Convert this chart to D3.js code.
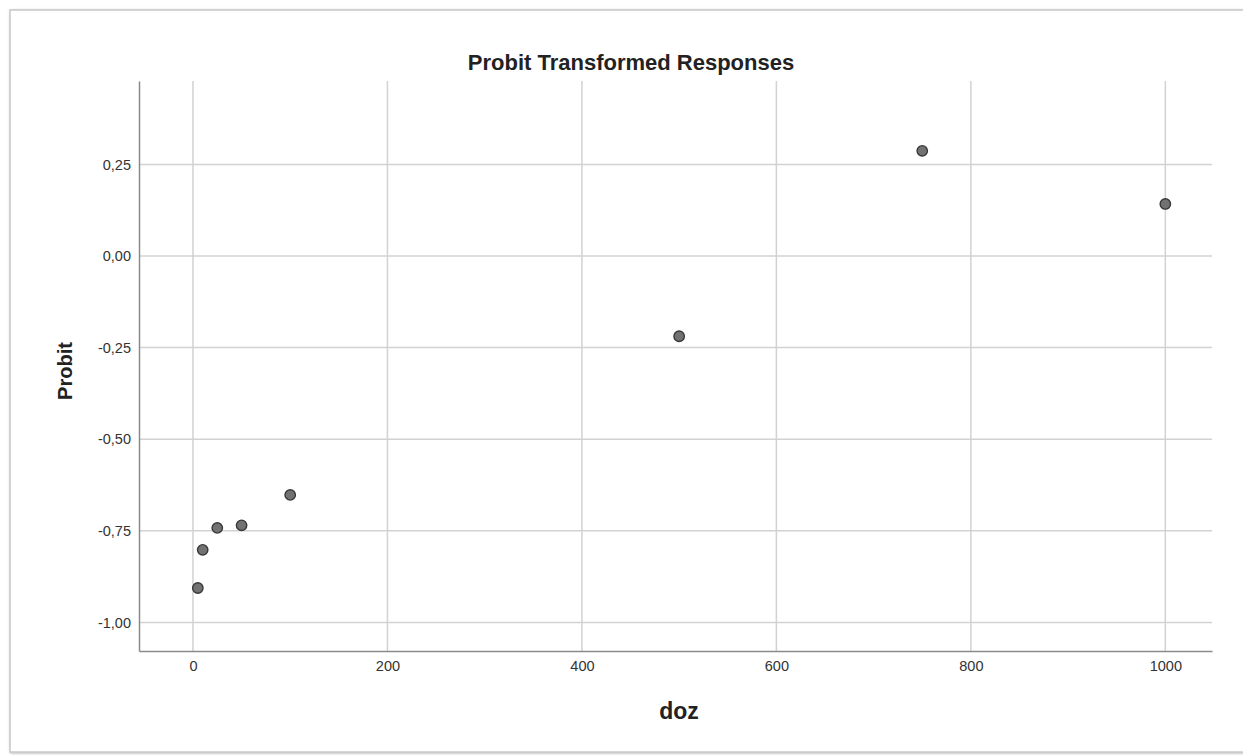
<!DOCTYPE html>
<html>
<head>
<meta charset="utf-8">
<script src="https://cdn.jsdelivr.net/npm/d3@7"></script>
<style>
  body { margin: 0; background: #fff; }
  text { font-family: "Liberation Sans", Arial, sans-serif; }
</style>
</head>
<body>
<div id="canvas"></div>
<script>
// ---- DATA ----
var doses = [5, 10, 25, 50, 100, 500, 750, 1000];
var probits = [-0.906, -0.802, -0.742, -0.735, -0.652, -0.219, 0.287, 0.142];
var xTicks = [0, 200, 400, 600, 800, 1000];
var yTicks = [0.25, 0, -0.25, -0.5, -0.75, -1];

// ---- CONVENTIONS ----
var outerWidth = 1243, outerHeight = 755;
var margin = {top: 81, right: 31, bottom: 104, left: 139};
var width = outerWidth - margin.left - margin.right,
    height = outerHeight - margin.top - margin.bottom;

var svg = d3.select('#canvas')
    .append('svg')
    .attr('width', outerWidth)
    .attr('height', outerHeight);

// frame with soft shadow
var defs = svg.append('defs');
var f = defs.append('filter').attr('id', 'shadow').attr('x', '-5%').attr('y', '-5%').attr('width', '110%').attr('height', '110%');
f.append('feDropShadow').attr('dx', 1).attr('dy', 1).attr('stdDeviation', 1.5).attr('flood-color', '#999').attr('flood-opacity', 0.6);

svg.append('rect')
    .attr('x', 10).attr('y', 10)
    .attr('width', outerWidth + 20).attr('height', 742)
    .attr('fill', '#fff')
    .attr('stroke', '#c8c8c8')
    .attr('stroke-width', 1.5)
    .attr('filter', 'url(#shadow)');

var plot = svg.append('g')
    .attr('transform', 'translate(' + margin.left + ',' + margin.top + ')');

// ---- SCALES ----
var scaleX = d3.scaleLinear().domain([-55.5, 1048]).range([0, width]);
var scaleY = d3.scaleLinear().domain([-1.078, 0.4776]).range([height, 0]);

var fmt = function(d){ return d3.format('.2f')(d).replace('.', ',').replace('−', '-'); };

// ---- GRID ----
plot.append('g').selectAll('line')
    .data(xTicks).enter().append('line')
    .attr('x1', function(d){ return scaleX(d); })
    .attr('x2', function(d){ return scaleX(d); })
    .attr('y1', 0).attr('y2', height)
    .style('stroke', '#d2d2d2').style('stroke-width', 1.5);

plot.append('g').selectAll('line')
    .data(yTicks).enter().append('line')
    .attr('x1', 0).attr('x2', width)
    .attr('y1', function(d){ return scaleY(d); })
    .attr('y2', function(d){ return scaleY(d); })
    .style('stroke', '#d2d2d2').style('stroke-width', 1.5);

// ---- AXES ----
var axisX = d3.axisBottom(scaleX).tickValues(xTicks).tickSize(0).tickPadding(10)
    .tickFormat(d3.format('d'));
var axisY = d3.axisLeft(scaleY).tickValues(yTicks).tickSize(0).tickPadding(8)
    .tickFormat(fmt);

var gx = plot.append('g').attr('class', 'axis axis-x')
    .attr('transform', 'translate(0,' + height + ')')
    .call(axisX);
var gy = plot.append('g').attr('class', 'axis axis-y')
    .call(axisY);

[gx, gy].forEach(function(g){
    g.select('.domain').style('stroke', '#8a8a8a').style('stroke-width', 1.5);
    g.selectAll('text').style('font-size', '14.5px').style('fill', '#333');
});

// ---- POINTS ----
plot.append('g').selectAll('circle')
    .data(doses).enter().append('circle')
    .attr('cx', function(d){ return scaleX(d); })
    .attr('cy', function(d, i){ return scaleY(probits[i]); })
    .attr('r', 5.2)
    .style('fill', '#727272')
    .style('stroke', '#383838')
    .style('stroke-width', 1.4);

// ---- LABELS ----
svg.append('text')
    .attr('x', 631).attr('y', 70)
    .attr('text-anchor', 'middle')
    .style('font-size', '22px').style('font-weight', 'bold').style('fill', '#222')
    .text('Probit Transformed Responses');

svg.append('text')
    .attr('transform', 'translate(72,371) rotate(-90)')
    .attr('text-anchor', 'middle')
    .style('font-size', '20px').style('font-weight', 'bold').style('fill', '#222')
    .text('Probit');

svg.append('text')
    .attr('x', 679).attr('y', 719)
    .attr('text-anchor', 'middle')
    .style('font-size', '23px').style('font-weight', 'bold').style('fill', '#222')
    .text('doz');
</script>
</body>
</html>
